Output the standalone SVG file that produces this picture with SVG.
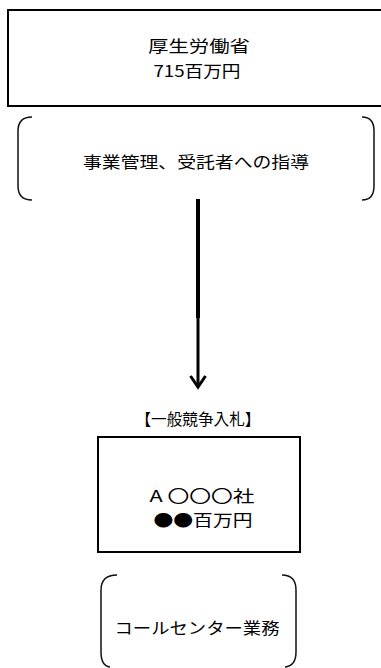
<svg xmlns="http://www.w3.org/2000/svg" width="381" height="668" viewBox="0 0 381 668">
<style>
.box{fill:#fff;stroke:#000;stroke-width:2}
.br{fill:none;stroke:#111;stroke-width:1.5}
text{font-family:"Noto Sans CJK JP","Noto Sans",sans-serif;font-size:16px;fill:#000;text-anchor:middle}
.conn{stroke:#000;fill:none}
</style>
<rect width="381" height="668" fill="#fff"/>
<g id="mhlw">
<rect class="box" x="8" y="10" width="380" height="96"/>
<text x="199" y="52" textLength="102" lengthAdjust="spacingAndGlyphs">厚生労働省</text>
<text x="197" y="77" textLength="87" lengthAdjust="spacingAndGlyphs">715百万円</text>
</g>
<g id="management">
<path class="br" d="M32 117 Q18 117 18 131 L18 186 Q18 200 32 200"/>
<path class="br" d="M362 117 Q374 117 374 131 L374 186 Q374 200 362 200"/>
<text x="196" y="168" textLength="226" lengthAdjust="spacingAndGlyphs">事業管理、受託者への指導</text>
</g>
<g id="connectors">
<line class="conn" x1="198" y1="199" x2="198" y2="318" stroke-width="4"/>
<line class="conn" x1="198" y1="318" x2="198" y2="387" stroke-width="3"/>
<polyline class="conn" points="190.5,376 198,387 205.5,376" stroke-width="3"/>
</g>
<g id="bid-label">
<text x="198" y="425" textLength="125" lengthAdjust="spacingAndGlyphs">【一般競争入札】</text>
</g>
<g id="company">
<rect class="box" x="98" y="437" width="202" height="115"/>
<text x="202" y="502" textLength="105" lengthAdjust="spacingAndGlyphs">A  〇〇〇社</text>
<text x="203" y="526" textLength="99" lengthAdjust="spacingAndGlyphs">●●百万円</text>
</g>
<g id="callcenter">
<path class="br" d="M117 575 Q101 575 101 590 L101 652 Q101 666 110 667"/>
<path class="br" d="M282 575 Q296 575 296 590 L296 652 Q296 666 285 667"/>
<text x="197" y="634" textLength="165" lengthAdjust="spacingAndGlyphs">コールセンター業務</text>
</g>
</svg>
